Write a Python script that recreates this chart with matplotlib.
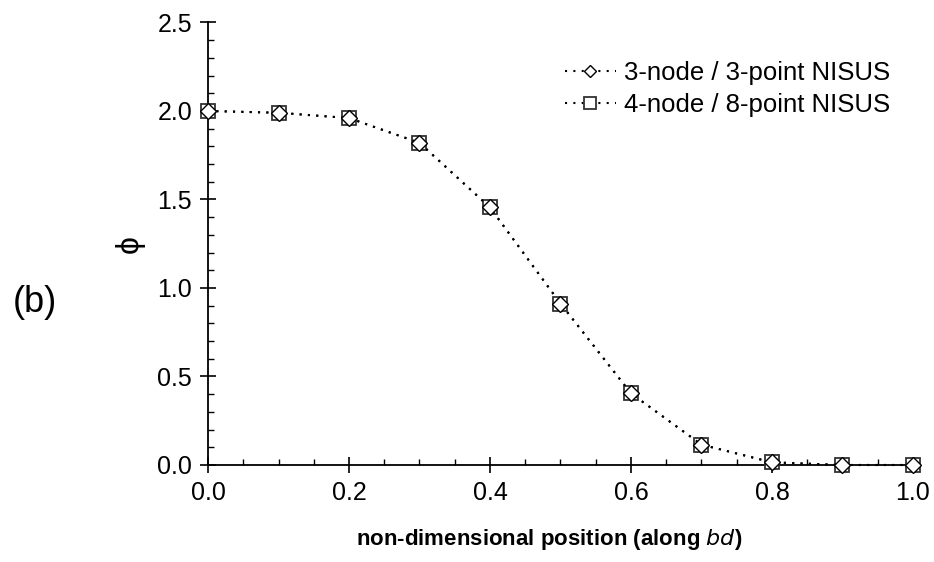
import numpy as np
import matplotlib.pyplot as plt
from matplotlib.ticker import MultipleLocator, FormatStrFormatter

plt.rcParams['font.family'] = ['Liberation Sans', 'DejaVu Sans']

# positions along bd and phi values
x_pos = [0.0, 0.1, 0.2, 0.3, 0.4, 0.5, 0.6, 0.7, 0.8, 0.9, 1.0]
phi_3node = [2.0, 1.99, 1.96, 1.82, 1.455, 0.912, 0.405, 0.115, 0.015, 0.0, 0.0]
phi_4node = [2.0, 1.99, 1.96, 1.82, 1.455, 0.912, 0.405, 0.115, 0.015, 0.0, 0.0]
labels = ['3-node / 3-point NISUS', '4-node / 8-point NISUS']

fig = plt.figure(figsize=(9.34, 5.62), dpi=100)
ax = fig.add_axes([0.2227, 0.1726, 0.7548, 0.7874])

# 4-node drawn underneath, diamonds on top
sq, = ax.plot(x_pos, phi_4node, ls=(0, (1, 3)), color='black', lw=1.5,
              marker='s', ms=10, mfc='white', mec='#333333', mew=1.3,
              clip_on=False, zorder=3, label=labels[1])
dm, = ax.plot(x_pos, phi_3node, ls=(0, (1, 3)), color='black', lw=1.5,
              marker='D', ms=8, mfc='white', mec='black', mew=1.0,
              clip_on=False, zorder=4, label=labels[0])

ax.set_xlim(0, 1.0)
ax.set_ylim(0, 2.5)
ax.spines['top'].set_visible(False)
ax.spines['right'].set_visible(False)
for s in ['left', 'bottom']:
    ax.spines[s].set_linewidth(1.3)

ax.xaxis.set_major_locator(MultipleLocator(0.2))
ax.xaxis.set_minor_locator(MultipleLocator(0.05))
ax.yaxis.set_major_locator(MultipleLocator(0.5))
ax.yaxis.set_minor_locator(MultipleLocator(0.1))
ax.xaxis.set_major_formatter(FormatStrFormatter('%.1f'))
ax.yaxis.set_major_formatter(FormatStrFormatter('%.1f'))

ax.tick_params(which='major', direction='inout', length=11, width=1.2,
               labelsize=18, pad=6)
ax.tick_params(which='minor', direction='in', length=4.5, width=1.0)

ax.set_xlabel('non-dimensional position (along $\\it{bd}$)', fontsize=16,
              fontweight='bold', labelpad=16)
ax.xaxis.label.set_x(0.484)
ax.set_ylabel('\u03d5', fontsize=23, rotation=90, labelpad=9)

fig.text(0.014, 0.445, '(b)', fontsize=26)

ax.legend(handles=[dm, sq], loc='upper right', bbox_to_anchor=(1.0, 0.965),
          frameon=False, fontsize=18.5, handlelength=2.0, handletextpad=0.3,
          labelspacing=0.3, markerscale=0.8)

fig.savefig('out.png', dpi=100)
